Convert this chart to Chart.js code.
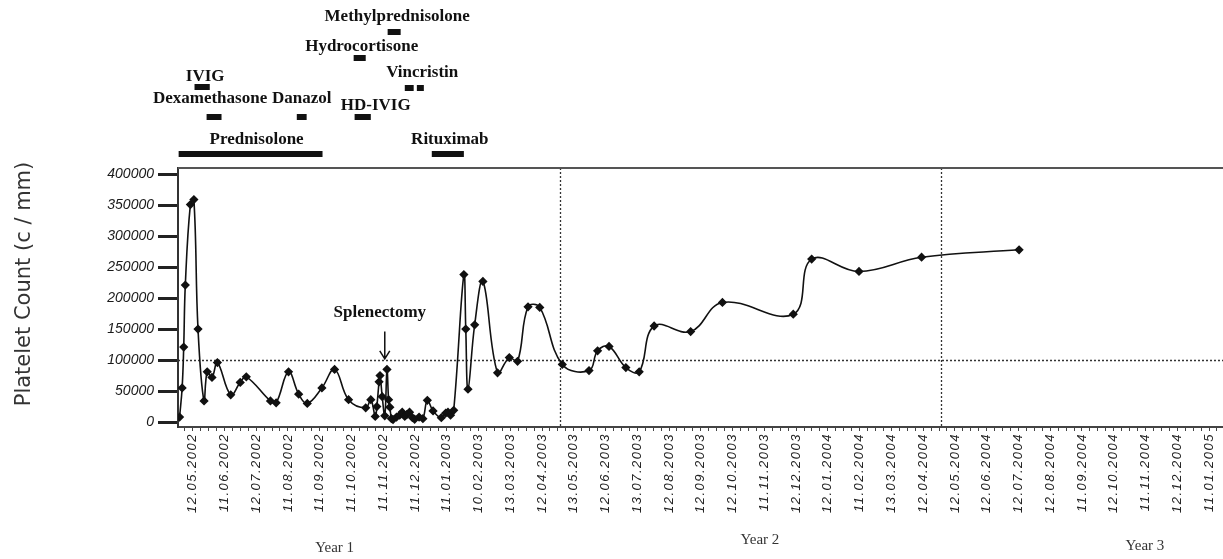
<!DOCTYPE html>
<html>
<head>
<meta charset="utf-8">
<script src="https://cdn.jsdelivr.net/npm/chart.js@4.4.0/dist/chart.umd.min.js"></script>
<style>
  html, body { margin: 0; padding: 0; background: #fff; }
  #wrap { position: relative; width: 1223px; height: 559px; }
</style>
</head>
<body>
<div id="wrap"><canvas id="chart"></canvas></div>
<script>
// x values are in "tick units": 0 = 12.05.2002, 1 = 11.06.2002, ... (one per label)
const tickLabels = [
    '12.05.2002', '11.06.2002', '12.07.2002', '11.08.2002', '11.09.2002', '11.10.2002',
    '11.11.2002', '11.12.2002', '11.01.2003', '10.02.2003', '13.03.2003', '12.04.2003',
    '13.05.2003', '12.06.2003', '13.07.2003', '12.08.2003', '12.09.2003', '12.10.2003',
    '11.11.2003', '12.12.2003', '12.01.2004', '11.02.2004', '13.03.2004', '12.04.2004',
    '12.05.2004', '12.06.2004', '12.07.2004', '12.08.2004', '11.09.2004', '12.10.2004',
    '11.11.2004', '12.12.2004', '11.01.2005'
];
const yTicks = [0, 50000, 100000, 150000, 200000, 250000, 300000, 350000, 400000];

const xVals = [
    -0.41, -0.33, -0.28, -0.23, -0.07, 0.04, 0.17, 0.36, 0.46, 0.61, 0.78,
    1.20, 1.50, 1.69, 2.45, 2.63, 3.02, 3.34, 3.61, 4.07, 4.47, 4.91,
    5.45, 5.61, 5.75, 5.80, 5.87, 5.90, 5.97, 6.05, 6.12, 6.17, 6.21, 6.26,
    6.31, 6.42, 6.52, 6.60, 6.68, 6.75, 6.83, 6.92, 6.99, 7.13, 7.25, 7.39,
    7.57, 7.83, 7.97, 8.04, 8.12, 8.22, 8.54, 8.60, 8.67, 8.88, 9.14,
    9.60, 9.97, 10.23, 10.56, 10.93, 11.64, 12.48, 12.75, 13.11, 13.64,
    14.06, 14.53, 15.68, 16.68, 18.91, 19.49, 20.98, 22.95, 26.02
];
const plateletVals = [
    8000, 55000, 121000, 221000, 351000, 359000, 150000, 34000, 81000, 72000, 96000,
    44000, 64000, 73000, 34000, 31000, 81000, 45000, 30000, 55000, 85000, 36000,
    23000, 36000, 9000, 25000, 65000, 75000, 41000, 10000, 85000, 36000, 24000, 5500,
    4000, 8000, 11000, 16000, 9000, 12500, 16000, 7000, 4500, 8000, 5500, 35000,
    18000, 7000, 14500, 16000, 11000, 19000, 238000, 150000, 53000, 157000, 227000,
    79500, 104000, 98000, 186000, 185000, 93000, 83000, 115000, 122000, 88000,
    81000, 155000, 146000, 193000, 174000, 263000, 243000, 266000, 278000
];

// treatments (start / end in tick units)
const treatNames = ['Prednisolone', 'Rituximab', 'Dexamethasone', 'Danazol', 'HD-IVIG',
    'IVIG', 'Vincristin', 'Vincristin', 'Hydrocortisone', 'Methylprednisolone'];
const treatStart = [-0.44, 7.53, 0.44, 3.28, 5.10, 0.06, 6.68, 7.06, 5.07, 6.14];
const treatEnd = [4.09, 8.54, 0.91, 3.59, 5.61, 0.54, 6.96, 7.28, 5.45, 6.55];

const refLevel = 100000;
const yearBounds = [11.56, 23.56];
const yearNames = ['Year 1', 'Year 2', 'Year 3'];
const splenectomyAt = 6.05;

// layout only: pixel rows for the treatment bars above the plot
const treatLayout = [
    { barY: 154, labelY: 140, dx: 6 },
    { barY: 154, labelY: 140, dx: 2 },
    { barY: 117, labelY: 99, dx: -4 },
    { barY: 117, labelY: 99, dx: 0 },
    { barY: 117, labelY: 106, dx: 13 },
    { barY: 87, labelY: 77, dx: 3 },
    { barY: 88, labelY: 73, dx: 13 },
    { barY: 88, labelY: null, dx: 0 },
    { barY: 58, labelY: 47, dx: 2 },
    { barY: 32, labelY: 17, dx: 3 }
];
const yearLabelAt = [4.47, 17.86, 29.98];
const yearLabelY = [548, 540, 546];

const overlay = {
    id: 'overlay',
    beforeDraw(chart) {
        // the date labels of the original are widely spaced
        const sx = chart.scales.x;
        if (sx && !sx._spaced) {
            const orig = sx.drawLabels.bind(sx);
            sx.drawLabels = function (area) {
                const c = this.ctx;
                c.save();
                c.letterSpacing = '1.5px';
                orig(area);
                c.restore();
            };
            sx._spaced = true;
        }
    },
    beforeDatasetsDraw(chart) {
        const { ctx, chartArea: a, scales: { x, y } } = chart;
        ctx.save();
        ctx.strokeStyle = '#333';
        ctx.lineWidth = 1.3;
        ctx.setLineDash([2, 2]);
        const yy = Math.round(y.getPixelForValue(refLevel)) + 0.5;
        ctx.beginPath();
        ctx.moveTo(a.left, yy);
        ctx.lineTo(a.right, yy);
        yearBounds.forEach(v => {
            const xx = Math.round(x.getPixelForValue(v)) + 0.5;
            ctx.moveTo(xx, a.top);
            ctx.lineTo(xx, a.bottom);
        });
        ctx.stroke();
        ctx.restore();
    },
    afterDraw(chart) {
        const { ctx, chartArea: a, scales: { x, y } } = chart;
        ctx.save();

        // top frame line
        ctx.strokeStyle = '#555';
        ctx.lineWidth = 2;
        ctx.beginPath();
        ctx.moveTo(a.left, a.top);
        ctx.lineTo(a.right, a.top);
        ctx.stroke();

        // y axis title
        ctx.save();
        ctx.translate(25, 284);
        ctx.rotate(-Math.PI / 2);
        ctx.fillStyle = '#333';
        ctx.font = '21px "DejaVu Sans"';
        ctx.textAlign = 'center';
        ctx.textBaseline = 'middle';
        ctx.fillText('Platelet Count (c / mm)', 0, 0);
        ctx.restore();

        // treatment bars + labels
        ctx.fillStyle = '#111';
        ctx.font = 'bold 17px "Liberation Serif"';
        ctx.textAlign = 'center';
        ctx.textBaseline = 'middle';
        treatNames.forEach((name, i) => {
            const x0 = x.getPixelForValue(treatStart[i]);
            const x1 = x.getPixelForValue(treatEnd[i]);
            const lay = treatLayout[i];
            ctx.fillRect(x0, lay.barY - 3, x1 - x0, 6);
            if (lay.labelY !== null) {
                ctx.fillText(name, (x0 + x1) / 2 + lay.dx, lay.labelY);
            }
        });

        // splenectomy marker
        const sx = x.getPixelForValue(splenectomyAt);
        ctx.fillText('Splenectomy', sx - 5, y.getPixelForValue(176000));
        ctx.strokeStyle = '#111';
        ctx.lineWidth = 1.5;
        const yTop = y.getPixelForValue(146000);
        const yTip = y.getPixelForValue(102000);
        ctx.beginPath();
        ctx.moveTo(sx, yTop);
        ctx.lineTo(sx, yTip);
        ctx.moveTo(sx - 5, yTip - 8);
        ctx.lineTo(sx, yTip);
        ctx.lineTo(sx + 5, yTip - 8);
        ctx.stroke();

        // year captions
        ctx.fillStyle = '#333';
        ctx.font = '15px "Liberation Serif"';
        yearNames.forEach((t, i) => {
            ctx.fillText(t, x.getPixelForValue(yearLabelAt[i]), yearLabelY[i]);
        });
        ctx.restore();
    }
};

new Chart(document.getElementById('chart'), {
    type: 'line',
    data: {
        datasets: [{
            data: xVals.map((v, i) => ({ x: v, y: plateletVals[i] })),
            borderColor: '#111',
            borderWidth: 1.6,
            tension: 0.4,
            pointStyle: 'rectRot',
            pointRadius: 3.5,
            pointBackgroundColor: '#111',
            pointBorderColor: '#111'
        }]
    },
    options: {
        responsive: true,
        maintainAspectRatio: false,
        animation: false,
        layout: { autoPadding: false, padding: { top: 168, right: 0, bottom: 0, left: 0 } },
        plugins: {
            legend: { display: false },
            tooltip: { enabled: false }
        },
        scales: {
            x: {
                type: 'linear',
                min: -0.46,
                max: 32.44,
                afterBuildTicks: (scale) => {
                    const t = [];
                    for (let k = -1; k <= 129; k++) t.push({ value: k / 4 });
                    scale.ticks = t;
                },
                afterFit: (scale) => {
                    scale.height = 132;
                    scale.paddingLeft = 0;
                    scale.paddingRight = 0;
                },
                ticks: {
                    autoSkip: false,
                    maxRotation: 90,
                    minRotation: 90,
                    padding: 2,
                    color: '#222',
                    font: { family: '"Liberation Sans"', style: 'italic', size: 13 },
                    callback: (v) => (Number.isInteger(v) && tickLabels[v]) ? tickLabels[v] : ''
                },
                grid: { drawOnChartArea: false, tickLength: 4, color: '#444', tickWidth: 1 },
                border: { color: '#444', width: 2 }
            },
            y: {
                min: -8000,
                max: 410000,
                afterBuildTicks: (scale) => { scale.ticks = yTicks.map(v => ({ value: v })); },
                afterFit: (scale) => { scale.width = 178; },
                ticks: {
                    padding: 4,
                    color: '#1a1a1a',
                    font: { family: '"Liberation Sans"', style: 'italic', size: 14 },
                    callback: (v) => String(v)
                },
                grid: { drawOnChartArea: false, tickLength: 20, tickWidth: 3, tickColor: '#222' },
                border: { color: '#333', width: 2 }
            }
        }
    },
    plugins: [overlay]
});
</script>
</body>
</html>
